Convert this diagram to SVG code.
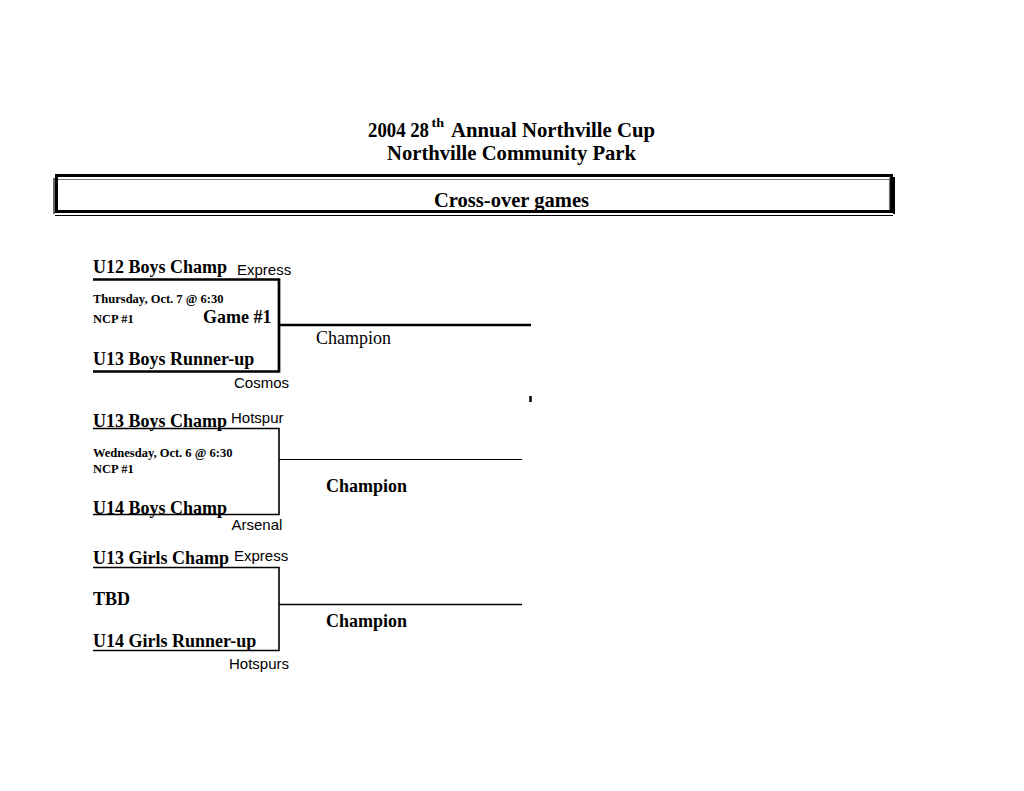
<svg xmlns="http://www.w3.org/2000/svg" width="1024" height="791" viewBox="0 0 1024 791">
<style>
  .t { font-family: "Liberation Serif", "Times New Roman", serif; fill: #000; }
  .b { font-weight: bold; }
  .s { font-family: "Liberation Sans", Arial, sans-serif; font-size: 15px; fill: #000; }
  .ln { stroke: #000; fill: none; }
</style>
<rect width="1024" height="791" fill="#fff"/>
<g id="title">
  <text class="t b" font-size="22"><tspan x="368" y="137" textLength="61" lengthAdjust="spacingAndGlyphs">2004 28</tspan><tspan x="431.5" y="127" font-size="13" textLength="12.5" lengthAdjust="spacingAndGlyphs">th</tspan><tspan x="451" y="137" textLength="204" lengthAdjust="spacingAndGlyphs">Annual Northville Cup</tspan></text>
  <text class="t b" x="387" y="160" font-size="22" textLength="249" lengthAdjust="spacingAndGlyphs">Northville Community Park</text>
</g>
<g id="header-box">
  <rect x="56.5" y="175.5" width="835" height="36" fill="none" stroke="#000" stroke-width="3"/>
  <line x1="58" y1="179.5" x2="890" y2="179.5" stroke="#777" stroke-width="1.2"/>
  <line x1="889.5" y1="178" x2="889.5" y2="210" stroke="#777" stroke-width="1.2"/>
  <line x1="54" y1="178" x2="54" y2="214" stroke="#000" stroke-width="1.2"/>
  <line x1="55" y1="215.5" x2="893" y2="215.5" stroke="#000" stroke-width="1.2"/>
  <line x1="894" y1="177" x2="894" y2="214" stroke="#000" stroke-width="2"/>
  <text class="t b" x="434" y="207" font-size="22" textLength="155" lengthAdjust="spacingAndGlyphs">Cross-over games</text>
</g>
<g id="connectors">
  <path class="ln" stroke-width="2.7" d="M93 279.5 H279 V371.5 H93 M279 325 H531"/>
  <line class="ln" x1="530.5" y1="396" x2="530.5" y2="402" stroke-width="2.5"/>
  <path class="ln" stroke-width="1.6" d="M93 428.5 H279 V514.5 H93"/>
  <line class="ln" x1="279" y1="459.5" x2="522" y2="459.5" stroke-width="1"/>
  <path class="ln" stroke-width="1.6" d="M93 567.5 H279 V650.5 H93 M279 604.5 H522"/>
</g>
<g id="game1">
  <text class="t b" x="93" y="273" font-size="18">U12 Boys Champ</text>
  <text class="s" x="237" y="275">Express</text>
  <text class="t b" x="93" y="303" font-size="12.5">Thursday, Oct. 7 @ 6:30</text>
  <text class="t b" x="93" y="322.5" font-size="12.5">NCP #1</text>
  <text class="t b" x="203" y="323" font-size="18">Game #1</text>
  <text class="t" x="316" y="343.5" font-size="18">Champion</text>
  <text class="t b" x="93" y="364.5" font-size="18">U13 Boys Runner-up</text>
  <text class="s" x="234" y="388">Cosmos</text>
</g>
<g id="game2">
  <text class="t b" x="93" y="426.5" font-size="18">U13 Boys Champ</text>
  <text class="s" x="231" y="423">Hotspur</text>
  <text class="t b" x="93" y="457" font-size="12.5">Wednesday, Oct. 6 @ 6:30</text>
  <text class="t b" x="93" y="473" font-size="12.5">NCP #1</text>
  <text class="t b" x="326" y="492" font-size="18">Champion</text>
  <text class="t b" x="93" y="513.5" font-size="18">U14 Boys Champ</text>
  <text class="s" x="231.5" y="529.5">Arsenal</text>
</g>
<g id="game3">
  <text class="t b" x="93" y="564" font-size="18">U13 Girls Champ</text>
  <text class="s" x="234" y="561">Express</text>
  <text class="t b" x="93" y="605" font-size="18">TBD</text>
  <text class="t b" x="326" y="626.5" font-size="18">Champion</text>
  <text class="t b" x="93" y="647" font-size="18">U14 Girls Runner-up</text>
  <text class="s" x="229" y="668.5">Hotspurs</text>
</g>
</svg>
